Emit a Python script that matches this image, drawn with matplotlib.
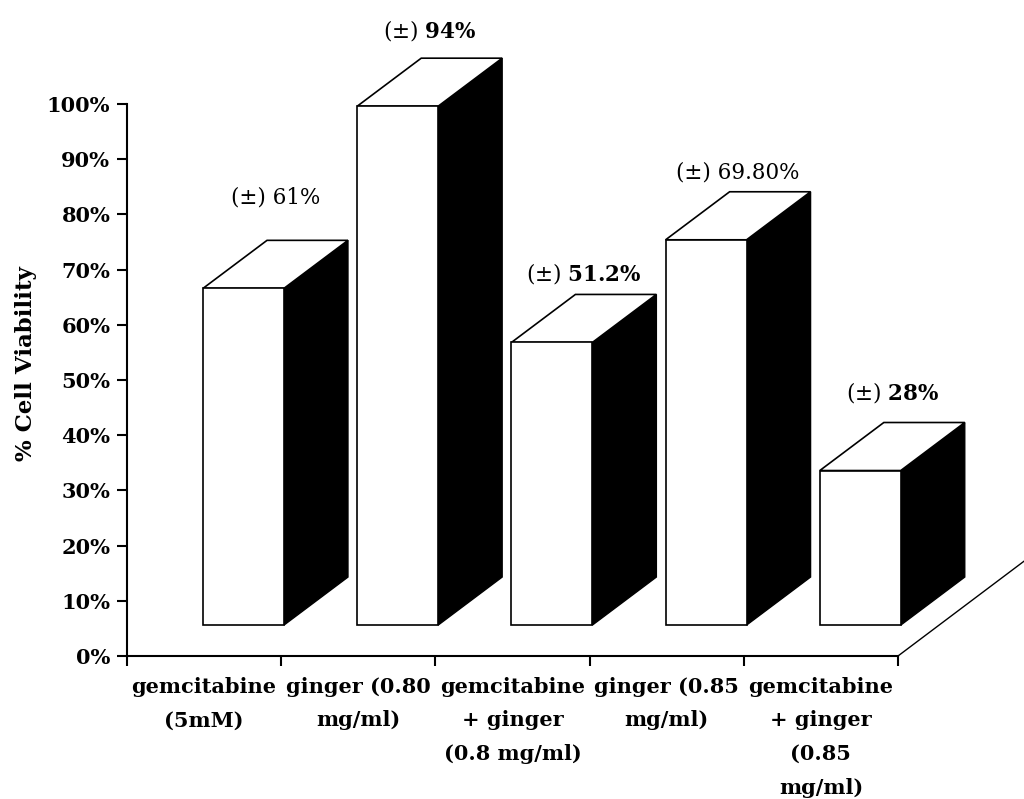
import numpy as np
import matplotlib.pyplot as plt
from matplotlib.patches import Polygon, Rectangle

# cell viability after treatment
categories = [
    "gemcitabine\n(5mM)",
    "ginger (0.80\nmg/ml)",
    "gemcitabine\n+ ginger\n(0.8 mg/ml)",
    "ginger (0.85\nmg/ml)",
    "gemcitabine\n+ ginger\n(0.85\nmg/ml)",
]
viability = [61, 94, 51.2, 69.8, 28]
value_text = ["61%", "94%", "51.2%", "69.80%", "28%"]
value_bold = [False, True, True, False, True]

# pseudo-3D geometry (x in category units, y in %)
bar_left = 0.493
bar_width = 0.525
shift_x, shift_y = 0.266, 5.6      # bars sit a little back from the front edge
depth_x, depth_y = 0.415, 8.7      # box depth
floor_x, floor_y = 0.947, 19.9     # full floor depth
label_gap = [7.8, 5.1, 3.8, 3.4, 5.4]

plt.rcParams['font.family'] = 'DejaVu Serif'
plt.rcParams['font.weight'] = 'bold'
plt.rcParams['mathtext.fontset'] = 'dejavuserif'

fig = plt.figure(figsize=(10.24, 7.99), dpi=100)
ax = fig.add_axes([127 / 1024, (799 - 656) / 799, (898 - 127) / 1024, (656 - 104) / 799])
ax.set_xlim(0, 5)
ax.set_ylim(0, 100)

for side in ['top', 'right']:
    ax.spines[side].set_visible(False)
for side in ['left', 'bottom']:
    ax.spines[side].set_linewidth(1.5)

# boxes
for i, v in enumerate(viability):
    x0 = i + bar_left
    x1 = x0 + bar_width
    y0 = shift_y
    y1 = shift_y + v
    side = Polygon([(x1, y0), (x1 + depth_x, y0 + depth_y), (x1 + depth_x, y1 + depth_y), (x1, y1)],
                   closed=True, facecolor='black', edgecolor='black', lw=1, clip_on=False, zorder=3)
    top = Polygon([(x0, y1), (x1, y1), (x1 + depth_x, y1 + depth_y), (x0 + depth_x, y1 + depth_y)],
                  closed=True, facecolor='white', edgecolor='black', lw=1.2, clip_on=False, zorder=3)
    front = Rectangle((x0, y0), bar_width, v, facecolor='white', edgecolor='black',
                      lw=1.2, clip_on=False, zorder=4)
    ax.add_patch(side)
    ax.add_patch(top)
    ax.add_patch(front)

    if value_bold[i]:
        txt = r"(±) $\mathbf{" + value_text[i].replace('%', r'\%') + "}$"
    else:
        txt = "(±) " + value_text[i]
    ax.text(x0 + bar_width / 2 + depth_x / 2, y1 + depth_y + label_gap[i], txt,
            ha='center', va='center', fontsize=15.5, fontweight='normal', zorder=5)

# right edge of the floor
ax.plot([5, 5 + floor_x], [0, floor_y], color='black', lw=1, clip_on=False)

# y axis
ax.set_yticks(np.arange(0, 101, 10))
ax.set_yticklabels([f"{t}%" for t in range(0, 101, 10)])
ax.tick_params(axis='y', direction='out', length=7, width=1.5, pad=5, labelsize=15)

# x axis: category boundaries as ticks, names in between
ax.set_xticks(np.arange(0, 6))
ax.set_xticklabels([])
ax.set_xticks(np.arange(5) + 0.5, minor=True)
ax.set_xticklabels(categories, minor=True)
ax.tick_params(axis='x', which='major', direction='out', length=7, width=1.5)
ax.tick_params(axis='x', which='minor', length=0, pad=15, labelsize=15)
for lbl in ax.get_xticklabels(minor=True):
    lbl.set_linespacing(1.85)

ax.set_ylabel('% Cell Viability', fontsize=16.5, fontweight='bold')
ax.yaxis.set_label_coords(-90 / 771, (656 - 364) / 552)

plt.savefig('out.png', dpi=100, facecolor='white')
